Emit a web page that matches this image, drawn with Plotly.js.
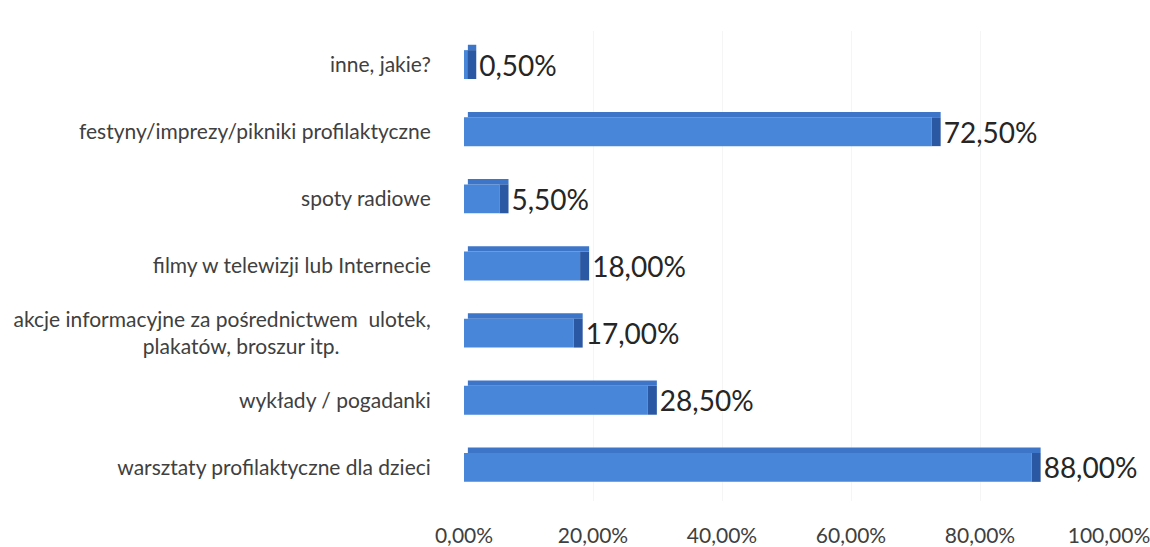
<!DOCTYPE html>
<html>
<head>
<meta charset="utf-8">
<script src="https://cdn.plot.ly/plotly-3.0.1.min.js"></script>
<style>html,body{margin:0;padding:0;background:#fff;}#chart{width:1150px;height:547px;}</style>
</head>
<body>
<div id="chart"></div>
<script>
// Data (bottom to top)
const categories = [
  "warsztaty profilaktyczne dla dzieci",
  "wykłady / pogadanki",
  "akcje informacyjne za pośrednictwem  ulotek,<br>plakatów, broszur itp.\u00a0\u00a0\u00a0\u00a0\u00a0\u00a0\u00a0\u00a0\u00a0\u00a0\u00a0\u00a0\u00a0\u00a0\u00a0\u00a0\u00a0",
  "filmy w telewizji lub Internecie",
  "spoty radiowe",
  "festyny/imprezy/pikniki profilaktyczne",
  "inne, jakie?"
];
const values = [88.0, 28.5, 17.0, 18.0, 5.5, 72.5, 0.5];
const tickValues = [0, 20, 40, 60, 80, 100];
const tickLabels = ["0,00%", "20,00%", "40,00%", "60,00%", "80,00%", "100,00%"];
const valueLabels = values.map(v => v.toFixed(2).replace('.', ',') + '%');

const FONT = "Lato, 'Open Sans', 'DejaVu Sans', sans-serif";
const depth = 1.4;      // 3D side depth in % units
const faceW = 0.43;     // front face thickness (category units)
const topW = 0.08;      // top face thickness

const frontFace = {
  type: 'bar', orientation: 'h', y: categories, x: values,
  width: faceW, offset: -faceW / 2,
  marker: { color: '#4886da', line: { width: 0 } },
  hoverinfo: 'skip', showlegend: false
};
const topFace = {
  type: 'bar', orientation: 'h', y: categories,
  x: values.map(v => v + depth - 0.6), base: values.map(() => 0.6),
  width: topW, offset: faceW / 2,
  marker: { color: '#3d75c9', line: { width: 0 } },
  hoverinfo: 'skip', showlegend: false
};
const sideFace = {
  type: 'bar', orientation: 'h', y: categories,
  x: values.map(() => depth), base: values,
  width: faceW, offset: -faceW / 2,
  marker: { color: '#2b58a3', line: { width: 0 } },
  text: valueLabels, textposition: 'outside', constraintext: 'none',
  cliponaxis: false,
  textfont: { family: FONT, size: 28, color: '#262626' },
  hoverinfo: 'skip', showlegend: false
};

const layout = {
  width: 1150, height: 547,
  margin: { l: 464, r: 41, t: 31, b: 46 },
  paper_bgcolor: '#ffffff', plot_bgcolor: '#ffffff',
  barmode: 'overlay',
  font: { family: FONT, color: '#404040' },
  xaxis: {
    range: [0, 100], tickvals: tickValues, ticktext: tickLabels,
    showgrid: true, gridcolor: '#f5f5f5', zeroline: false, showline: false,
    ticks: 'outside', ticklen: 16, tickcolor: 'rgba(0,0,0,0)',
    ticklabeloverflow: 'allow',
    tickfont: { family: FONT, size: 21, color: '#404040' },
    automargin: false, fixedrange: true
  },
  yaxis: {
    type: 'category', categoryorder: 'array', categoryarray: categories,
    range: [-0.5, 6.5],
    showgrid: false, zeroline: false, showline: false,
    ticks: 'outside', ticklen: 28, tickcolor: 'rgba(0,0,0,0)',
    tickfont: { family: FONT, size: 21, color: '#404040' },
    automargin: false, fixedrange: true
  }
};

Plotly.newPlot('chart', [frontFace, topFace, sideFace], layout, { displayModeBar: false, staticPlot: true });
</script>
</body>
</html>
